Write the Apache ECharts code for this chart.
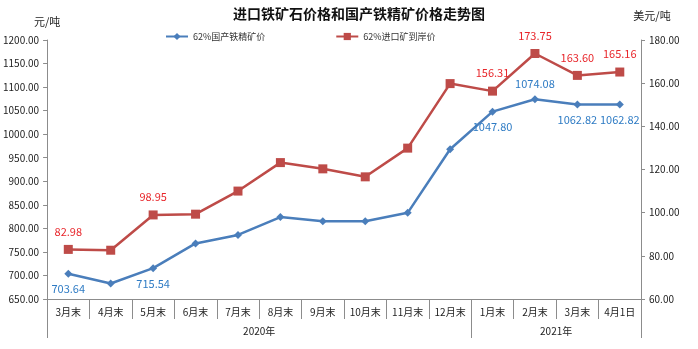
<!DOCTYPE html>
<html>
<head>
<meta charset="utf-8">
<script src="https://cdn.jsdelivr.net/npm/echarts@6/dist/echarts.min.js"></script>
<style>
  html, body { margin: 0; padding: 0; background: #fff; }
  #chart { width: 698px; height: 349px; }
</style>
</head>
<body>
<div id="chart"></div>
<script>
// Month categories and the year groups beneath them
const months = ['3月末', '4月末', '5月末', '6月末', '7月末', '8月末', '9月末', '10月末', '11月末', '12月末', '1月末', '2月末', '3月末', '4月1日'];
const years = ['2020年', '2021年'];
const yearSpans = [10, 4];

// 62% domestic concentrate price (元/吨, left axis)
const domestic = [703.64, 683, 715.54, 768, 786, 824, 815, 815, 833, 968, 1047.80, 1074.08, 1062.82, 1062.82];
// 62% imported ore CIF price (美元/吨, right axis)
const imported = [82.98, 82.6, 98.95, 99.3, 110.0, 123.2, 120.3, 116.6, 129.9, 159.8, 156.31, 173.75, 163.60, 165.16];

// Points whose values are printed
const labelledIdx = [0, 2, 10, 11, 12, 13];
const domesticLabelPos = { 0: 'bottom', 2: 'bottom', 10: 'bottom', 11: 'top', 12: 'bottom', 13: 'bottom' };

// Year group boundaries and centres on a 0..N scale
const yearEdges = [0];
yearSpans.forEach(s => yearEdges.push(yearEdges[yearEdges.length - 1] + s));
const yearCenters = yearSpans.map((s, i) => yearEdges[i] + s / 2);

const FONT = '"Noto Sans CJK SC", "Noto Sans", sans-serif';
const BLUE = '#4A7EBB';
const RED = '#BE4B48';
const BLUE_TXT = '#2E7BC4';
const RED_TXT = '#E8262B';
const AXIS = '#8C8C8C';

const chart = echarts.init(document.getElementById('chart'), null, { renderer: 'canvas' });

function buildData(values, labelFn) {
  return values.map((v, i) => {
    const item = { value: v };
    if (labelledIdx.includes(i)) item.label = labelFn(i);
    else item.label = { show: false };
    return item;
  });
}

chart.setOption({
  animation: false,
  backgroundColor: '#fff',
  textStyle: { fontFamily: FONT },
  title: {
    text: '进口铁矿石价格和国产铁精矿价格走势图',
    left: 228,
    top: 2,
    textStyle: { fontSize: 14, fontWeight: 'bold', color: '#111', fontFamily: FONT }
  },
  legend: {
    top: 27,
    left: 160,
    itemGap: 70,
    itemWidth: 22,
    itemHeight: 9,
    textStyle: { fontSize: 9, color: '#333', fontFamily: FONT },
    data: ['62%国产铁精矿价', '62%进口矿到岸价']
  },
  grid: { left: 47, right: 57, top: 40, bottom: 50 },
  xAxis: [
    {
      type: 'category',
      data: months,
      boundaryGap: true,
      axisLine: { lineStyle: { color: AXIS, width: 1 } },
      axisTick: { show: true, interval: 0, length: 20, lineStyle: { color: AXIS } },
      axisLabel: { interval: 0, margin: 8, fontSize: 10, color: '#222', fontFamily: FONT },
      splitLine: { show: false }
    },
    {
      type: 'value',
      position: 'bottom',
      min: 0,
      max: yearEdges[yearEdges.length - 1],
      axisLine: { show: false },
      axisTick: { show: true, customValues: yearEdges, length: 39, lineStyle: { color: AXIS } },
      axisLabel: {
        show: true,
        customValues: yearCenters,
        margin: 27,
        fontSize: 10,
        color: '#222',
        fontFamily: FONT,
        formatter: v => years[yearCenters.indexOf(v)] || ''
      },
      splitLine: { show: false }
    }
  ],
  yAxis: [
    {
      type: 'value',
      min: 650,
      max: 1200,
      interval: 50,
      name: '元/吨',
      nameLocation: 'end',
      nameGap: 13,
      nameTextStyle: { fontSize: 11, color: '#222', padding: [0, 0, 0, 0], fontFamily: FONT },
      axisLine: { show: true, lineStyle: { color: AXIS } },
      axisTick: { show: true, length: 4, lineStyle: { color: AXIS } },
      axisLabel: { fontSize: 10, color: '#222', margin: 8, formatter: v => v.toFixed(2), fontFamily: FONT },
      splitLine: { show: false }
    },
    {
      type: 'value',
      min: 60,
      max: 180,
      interval: 20,
      name: '美元/吨',
      nameLocation: 'end',
      nameGap: 19,
      nameTextStyle: { fontSize: 11, color: '#222', padding: [0, 0, 0, 22], fontFamily: FONT },
      axisLine: { show: true, lineStyle: { color: AXIS } },
      axisTick: { show: true, length: 4, lineStyle: { color: AXIS } },
      axisLabel: { fontSize: 10, color: '#222', margin: 8, formatter: v => v.toFixed(2), fontFamily: FONT },
      splitLine: { show: false }
    }
  ],
  series: [
    {
      name: '62%国产铁精矿价',
      type: 'line',
      xAxisIndex: 0,
      yAxisIndex: 0,
      symbol: 'diamond',
      symbolSize: 8,
      lineStyle: { color: BLUE, width: 2.5 },
      itemStyle: { color: BLUE },
      data: buildData(domestic, i => ({
        show: true,
        position: domesticLabelPos[i],
        distance: 6,
        fontSize: 11,
        color: BLUE_TXT,
        fontFamily: FONT,
        formatter: p => p.value.toFixed(2)
      }))
    },
    {
      name: '62%进口矿到岸价',
      type: 'line',
      xAxisIndex: 0,
      yAxisIndex: 1,
      symbol: 'rect',
      symbolSize: 9,
      lineStyle: { color: RED, width: 2.5 },
      itemStyle: { color: RED },
      data: buildData(imported, () => ({
        show: true,
        position: 'top',
        distance: 8,
        fontSize: 11,
        color: RED_TXT,
        fontFamily: FONT,
        formatter: p => p.value.toFixed(2)
      }))
    }
  ]
});
</script>
</body>
</html>
